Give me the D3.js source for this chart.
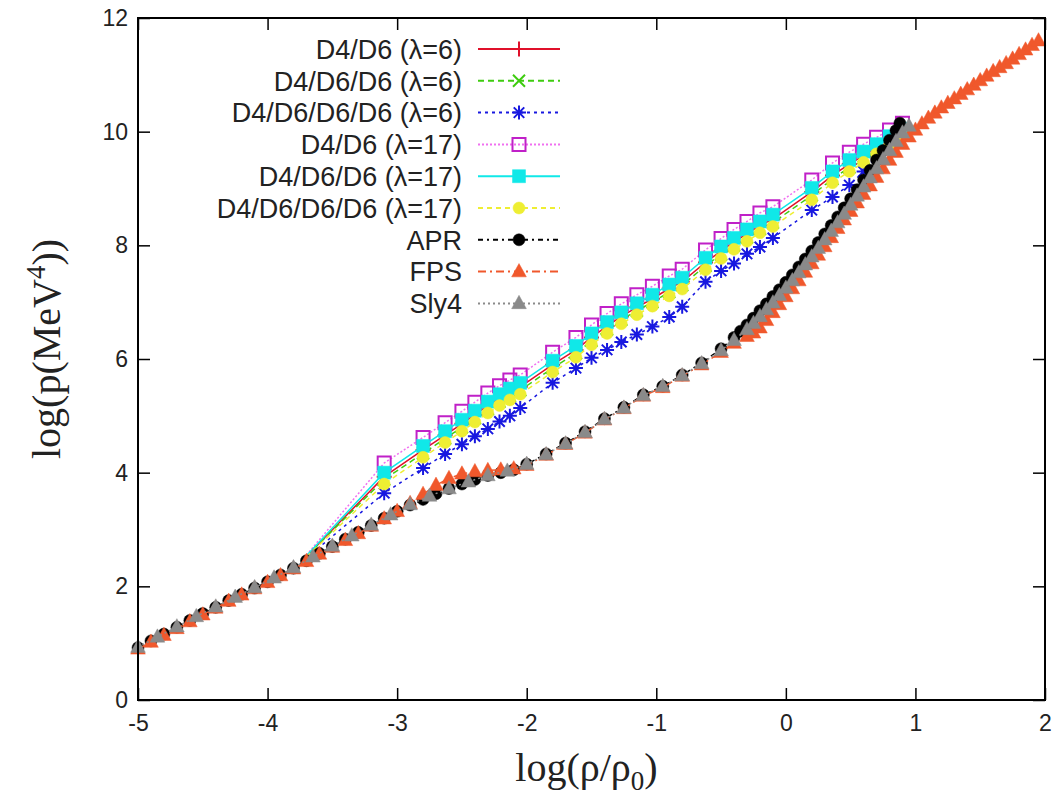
<!DOCTYPE html>
<html>
<head>
<meta charset="utf-8">
<script src="https://cdn.jsdelivr.net/npm/d3@7"></script>
<style>
  body { margin: 0; background: #fff; }
</style>
</head>
<body>
<div id="chart"></div>
<script>
// hybrid EOS density grid (log rho/rho0)
const xH = [-3.7, -3.1, -2.8, -2.63, -2.5, -2.4, -2.3, -2.21, -2.13, -2.05, -1.8, -1.62, -1.5, -1.38, -1.27, -1.15, -1.03, -0.9, -0.8, -0.62, -0.5, -0.4, -0.3, -0.2, -0.1, 0.2, 0.36, 0.49, 0.6, 0.7, 0.8, 0.9];

const yD4D6_6 = [2.53, 3.93, 4.40, 4.66, 4.86, 5.02, 5.18, 5.31, 5.41, 5.51, 5.90, 6.16, 6.38, 6.58, 6.75, 6.91, 7.06, 7.24, 7.36, 7.70, 7.90, 8.06, 8.20, 8.35, 8.46, 8.94, 9.23, 9.43, 9.58, 9.72, 9.86, 10.00];
const yD4D6D6_6 = [2.53, 3.88, 4.34, 4.60, 4.80, 4.96, 5.12, 5.25, 5.35, 5.45, 5.84, 6.10, 6.32, 6.52, 6.69, 6.85, 7.00, 7.18, 7.30, 7.64, 7.84, 8.00, 8.14, 8.29, 8.40, 8.88, 9.17, 9.37, 9.53, 9.67, 9.81, 9.96];
const yD4D6D6D6_6 = [2.50, 3.64, 4.08, 4.33, 4.50, 4.64, 4.77, 4.90, 5.00, 5.14, 5.58, 5.84, 6.02, 6.16, 6.30, 6.43, 6.57, 6.74, 6.92, 7.36, 7.55, 7.68, 7.85, 7.97, 8.13, 8.62, 8.85, 9.06, 9.30, 9.55, 9.80, 10.05];
const yD4D6_17 = [2.55, 4.17, 4.62, 4.88, 5.08, 5.24, 5.40, 5.53, 5.63, 5.72, 6.12, 6.38, 6.60, 6.80, 6.97, 7.13, 7.28, 7.46, 7.58, 7.92, 8.12, 8.28, 8.42, 8.57, 8.68, 9.15, 9.45, 9.64, 9.78, 9.90, 10.03, 10.15];
const yD4D6D6_17 = [2.54, 4.00, 4.47, 4.73, 4.93, 5.09, 5.25, 5.38, 5.48, 5.58, 5.97, 6.23, 6.45, 6.65, 6.82, 6.98, 7.13, 7.31, 7.43, 7.78, 7.98, 8.13, 8.28, 8.42, 8.54, 9.01, 9.30, 9.50, 9.65, 9.78, 9.92, 10.05];
const yD4D6D6D6_17 = [2.52, 3.80, 4.27, 4.53, 4.73, 4.89, 5.05, 5.18, 5.28, 5.38, 5.77, 6.03, 6.25, 6.45, 6.62, 6.78, 6.93, 7.11, 7.23, 7.57, 7.77, 7.93, 8.07, 8.22, 8.33, 8.80, 9.10, 9.30, 9.46, 9.61, 9.76, 9.92];

// hadronic EOS
const xAPR = [-5.0, -4.9, -4.8, -4.7, -4.6, -4.5, -4.4, -4.3, -4.2, -4.1, -4.0, -3.9, -3.8, -3.7, -3.6, -3.5, -3.4, -3.3, -3.2, -3.1, -3.0, -2.9, -2.8, -2.7, -2.6, -2.5, -2.4, -2.3, -2.2, -2.1, -2.0, -1.85, -1.7, -1.55, -1.4, -1.25, -1.1, -0.95, -0.8, -0.65, -0.5, -0.4, -0.35, -0.3, -0.25, -0.2, -0.15, -0.1, -0.05, 0, 0.05, 0.1, 0.15, 0.2, 0.25, 0.3, 0.35, 0.4, 0.45, 0.5, 0.55, 0.6, 0.65, 0.7, 0.75, 0.8, 0.85, 0.88];
const yAPR = [0.92, 1.04, 1.16, 1.28, 1.40, 1.52, 1.63, 1.75, 1.86, 1.97, 2.08, 2.20, 2.32, 2.45, 2.58, 2.70, 2.83, 2.95, 3.07, 3.20, 3.32, 3.43, 3.53, 3.63, 3.72, 3.80, 3.88, 3.95, 4.00, 4.05, 4.15, 4.33, 4.52, 4.72, 4.95, 5.15, 5.37, 5.52, 5.72, 5.93, 6.18, 6.38, 6.49, 6.60, 6.72, 6.85, 6.97, 7.10, 7.22, 7.35, 7.48, 7.62, 7.76, 7.90, 8.05, 8.20, 8.35, 8.50, 8.66, 8.82, 8.98, 9.15, 9.32, 9.50, 9.67, 9.85, 10.02, 10.15];

const xFPS = [-5.0, -4.9, -4.8, -4.7, -4.6, -4.5, -4.4, -4.3, -4.2, -4.1, -4.0, -3.9, -3.8, -3.7, -3.6, -3.5, -3.4, -3.3, -3.2, -3.1, -3.0, -2.9, -2.8, -2.7, -2.6, -2.5, -2.4, -2.3, -2.2, -2.1, -2.0, -1.85, -1.7, -1.55, -1.4, -1.25, -1.1, -0.95, -0.8, -0.65, -0.5, -0.4, -0.3, -0.25, -0.2, -0.15, -0.1, -0.05, 0, 0.05, 0.1, 0.15, 0.2, 0.25, 0.3, 0.35, 0.4, 0.45, 0.5, 0.55, 0.6, 0.65, 0.7, 0.75, 0.8, 0.85, 0.9, 0.95, 1.0, 1.05, 1.1, 1.15, 1.2, 1.25, 1.3, 1.35, 1.4, 1.45, 1.5, 1.55, 1.6, 1.65, 1.7, 1.75, 1.8, 1.85, 1.9, 1.95];
const yFPS = [0.90, 1.02, 1.14, 1.26, 1.38, 1.50, 1.62, 1.74, 1.85, 1.96, 2.07, 2.19, 2.31, 2.44, 2.57, 2.69, 2.81, 2.93, 3.06, 3.19, 3.32, 3.46, 3.62, 3.78, 3.90, 3.98, 4.02, 4.04, 4.05, 4.07, 4.13, 4.31, 4.50, 4.70, 4.93, 5.13, 5.35, 5.50, 5.70, 5.90, 6.12, 6.28, 6.40, 6.46, 6.55, 6.68, 6.82, 6.96, 7.10, 7.24, 7.38, 7.53, 7.68, 7.83, 7.98, 8.14, 8.30, 8.45, 8.60, 8.75, 8.90, 9.05, 9.20, 9.35, 9.50, 9.64, 9.78, 9.91, 10.03, 10.14, 10.24, 10.33, 10.42, 10.50, 10.58, 10.66, 10.74, 10.82, 10.90, 10.98, 11.06, 11.13, 11.20, 11.28, 11.36, 11.44, 11.52, 11.60];

const xSLY = [-5.0, -4.85, -4.7, -4.55, -4.4, -4.25, -4.1, -3.95, -3.8, -3.65, -3.5, -3.35, -3.2, -3.05, -2.9, -2.75, -2.6, -2.45, -2.3, -2.15, -2.0, -1.85, -1.7, -1.55, -1.4, -1.25, -1.1, -0.95, -0.8, -0.65, -0.5, -0.4, -0.3, -0.25, -0.2, -0.15, -0.1, -0.05, 0, 0.05, 0.1, 0.15, 0.2, 0.25, 0.3, 0.35, 0.4, 0.45, 0.5, 0.55, 0.6, 0.65, 0.7, 0.75, 0.8, 0.85, 0.9, 0.95];
const ySLY = [0.93, 1.11, 1.29, 1.47, 1.64, 1.81, 1.98, 2.15, 2.33, 2.52, 2.71, 2.89, 3.08, 3.26, 3.44, 3.59, 3.72, 3.84, 3.95, 4.03, 4.15, 4.32, 4.51, 4.71, 4.94, 5.14, 5.36, 5.52, 5.71, 5.92, 6.15, 6.33, 6.52, 6.63, 6.75, 6.87, 6.99, 7.12, 7.25, 7.38, 7.52, 7.66, 7.80, 7.95, 8.10, 8.25, 8.40, 8.55, 8.71, 8.87, 9.03, 9.19, 9.35, 9.51, 9.67, 9.83, 9.98, 10.10];

const xTicks = [-5, -4, -3, -2, -1, 0, 1, 2];
const yTicks = [0, 2, 4, 6, 8, 10, 12];

const W = 1059, H = 797;
const mLeft = 138, mRight = 1045, mTop = 18, mBottom = 700;
const sans = "'Liberation Sans', Arial, sans-serif";
const serif = "'Liberation Serif', 'Times New Roman', serif";

// hybrid curves branch off the crust at their first point (no symbol there)
const series = [
  { name: "D4/D6 (\u03bb=6)", xs: xH, ys: yD4D6_6, color: "#e0102a", dash: null, mark: "plus", skipFirst: true },
  { name: "D4/D6/D6 (\u03bb=6)", xs: xH, ys: yD4D6D6_6, color: "#3fcc10", dash: "6,4", mark: "cross", skipFirst: true },
  { name: "D4/D6/D6/D6 (\u03bb=6)", xs: xH, ys: yD4D6D6D6_6, color: "#1818e0", dash: "3,4", mark: "star", skipFirst: true },
  { name: "D4/D6 (\u03bb=17)", xs: xH, ys: yD4D6_17, color: "#c020c8", lineColor: "#f070f0", dash: "2,2", mark: "square", skipFirst: true },
  { name: "D4/D6/D6 (\u03bb=17)", xs: xH, ys: yD4D6D6_17, color: "#10e8e8", dash: null, mark: "fsquare", skipFirst: true },
  { name: "D4/D6/D6/D6 (\u03bb=17)", xs: xH, ys: yD4D6D6D6_17, color: "#eeee33", dash: "5,4", mark: "circle", skipFirst: true },
  { name: "APR", xs: xAPR, ys: yAPR, color: "#000000", dash: "5,4,2,4", mark: "circle" },
  { name: "FPS", xs: xFPS, ys: yFPS, color: "#f0582c", dash: "8,4,2,4", mark: "triangle" },
  { name: "Sly4", xs: xSLY, ys: ySLY, color: "#8a8a8a", dash: "2,3", mark: "triangle" }
];

function markPath(type, s) {
  if (type == "plus") return `M${-s},0H${s}M0,${-s}V${s}`;
  if (type == "cross") return `M${-s},${-s}L${s},${s}M${-s},${s}L${s},${-s}`;
  if (type == "star") { const c = s * 0.75; return `M${-s},0H${s}M0,${-s}V${s}M${-c},${-c}L${c},${c}M${-c},${c}L${c},${-c}`; }
  if (type == "square" || type == "fsquare") return `M${-s},${-s}H${s}V${s}H${-s}Z`;
  if (type == "circle") return `M${s},0A${s},${s} 0 1,1 ${-s},0A${s},${s} 0 1,1 ${s},0Z`;
  if (type == "triangle") return `M0,${-s * 1.15}L${s * 1.05},${s * 0.75}L${-s * 1.05},${s * 0.75}Z`;
}
const markSize = { plus: 7.5, cross: 6, star: 7, square: 6.5, fsquare: 6.5, circle: 6, triangle: 7 };

function styleMark(sel, d) {
  const filled = ["fsquare", "circle", "triangle"].includes(d.mark);
  sel.attr("d", markPath(d.mark, markSize[d.mark]))
    .attr("fill", filled ? d.color : "none")
    .attr("stroke", d.color)
    .attr("stroke-width", filled ? 0.5 : 2);
}

const svg = d3.select("#chart").append("svg")
  .attr("width", W).attr("height", H)
  .style("background", "#fff");

const x = d3.scaleLinear().domain([-5, 2]).range([mLeft, mRight]);
const y = d3.scaleLinear().domain([0, 12]).range([mBottom, mTop]);

// axes, ticks drawn inward on all four sides
const fmt = d => String(d);
svg.append("g").attr("transform", `translate(0,${mBottom})`)
  .call(d3.axisBottom(x).tickValues(xTicks).tickFormat(fmt).tickSizeInner(-12).tickSizeOuter(0).tickPadding(15));
svg.append("g").attr("transform", `translate(0,${mTop})`)
  .call(d3.axisTop(x).tickValues(xTicks).tickFormat("").tickSizeInner(-12).tickSizeOuter(0));
svg.append("g").attr("transform", `translate(${mLeft},0)`)
  .call(d3.axisLeft(y).tickValues(yTicks).tickFormat(fmt).tickSizeInner(-12).tickSizeOuter(0).tickPadding(10));
svg.append("g").attr("transform", `translate(${mRight},0)`)
  .call(d3.axisRight(y).tickValues(yTicks).tickFormat("").tickSizeInner(-12).tickSizeOuter(0));
svg.selectAll(".domain").remove();
svg.selectAll(".tick line").attr("stroke", "#000").attr("stroke-width", 1.5);
svg.selectAll(".tick text").attr("font-size", 23).attr("fill", "#222")
  .attr("font-family", sans);

// plot the curves
const plot = svg.append("g");
series.forEach(s => {
  const pts = s.xs.map((v, i) => [v, s.ys[i]]);
  plot.append("path")
    .datum(pts)
    .attr("fill", "none")
    .attr("stroke", s.lineColor || s.color)
    .attr("stroke-width", 1.5)
    .attr("stroke-dasharray", s.dash)
    .attr("d", d3.line().x(d => x(d[0])).y(d => y(d[1])));
  plot.selectAll(null).data(s.skipFirst ? pts.slice(1) : pts).enter().append("path")
    .attr("transform", d => `translate(${x(d[0])},${y(d[1])})`)
    .call(sel => styleMark(sel, s));
});

// frame
svg.append("rect")
  .attr("x", mLeft).attr("y", mTop)
  .attr("width", mRight - mLeft).attr("height", mBottom - mTop)
  .attr("fill", "none").attr("stroke", "#000").attr("stroke-width", 2);

// key
const key = svg.append("g");
series.forEach((s, i) => {
  const ky = 49 + i * 31.8;
  key.append("text")
    .attr("x", 462).attr("y", ky).attr("dy", "0.36em")
    .attr("text-anchor", "end")
    .attr("font-family", sans)
    .attr("font-size", 27).attr("fill", "#222")
    .text(s.name);
  key.append("line")
    .attr("x1", 478).attr("x2", 560).attr("y1", ky).attr("y2", ky)
    .attr("stroke", s.lineColor || s.color).attr("stroke-width", 2)
    .attr("stroke-dasharray", s.dash);
  key.append("path")
    .attr("transform", `translate(519,${ky})`)
    .call(sel => styleMark(sel, s));
});

// axis titles
const xt = svg.append("text")
  .attr("x", (mLeft + mRight) / 2 - 5).attr("y", 781)
  .attr("text-anchor", "middle")
  .attr("font-family", serif)
  .attr("font-size", 40).attr("fill", "#222");
xt.append("tspan").text("log(\u03c1/\u03c1");
xt.append("tspan").attr("font-size", 27).attr("dy", 9).text("0");
xt.append("tspan").attr("dy", -9).text(")");

const yt = svg.append("text")
  .attr("transform", "translate(60,349) rotate(-90)")
  .attr("text-anchor", "middle")
  .attr("font-family", serif)
  .attr("font-size", 40).attr("fill", "#222");
yt.append("tspan").text("log(p(MeV");
yt.append("tspan").attr("font-size", 27).attr("dy", -15).text("4");
yt.append("tspan").attr("dy", 15).text("))");
</script>
</body>
</html>
